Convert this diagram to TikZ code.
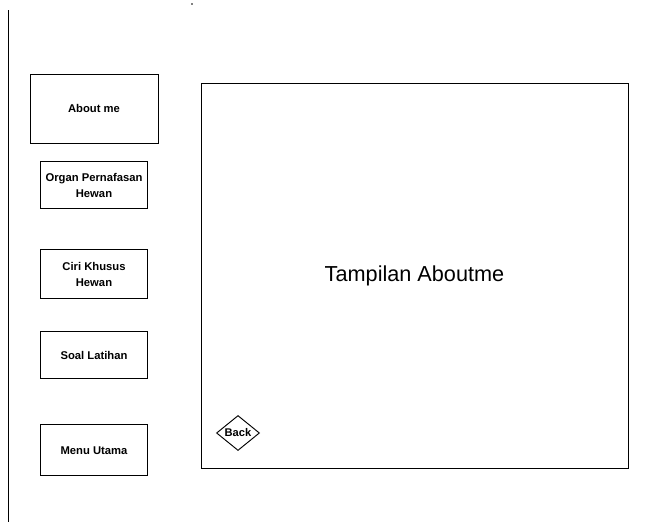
\documentclass[tikz,border=0pt]{standalone}
\usepackage{fontspec}
\setmainfont{Liberation Sans}
\usetikzlibrary{positioning, shapes.geometric}
\tikzset{
  menubtn/.style={draw, line width=0.8pt, align=center, inner sep=2pt,
                  minimum width=3.21cm, minimum height=1.41cm,
                  font=\fontsize{9.6}{13}\selectfont\bfseries},
}

\begin{document}
\begin{tikzpicture}[x=0.03cm, y=-0.03cm,
  screen/.style={draw, line width=0.8pt, minimum width=12.81cm,
                 minimum height=11.55cm, font=\fontsize{18.5}{22}\selectfont},
  backbtn/.style={draw, diamond, line width=0.8pt, inner sep=0pt,
                  minimum width=1.29cm, minimum height=1.05cm,
                  font=\fontsize{9.5}{10}\selectfont\bfseries}]
  \useasboundingbox (0,0) rectangle (660,528);
  % left border line and scan speck
  \coordinate (ltop) at (8,10);
  \coordinate (lbot) at (8,522);
  \draw[line width=0.6pt] (ltop) -- (lbot);
  \fill (192,4) circle (0.8);
  % menu buttons
  \node[menubtn, minimum width=3.84cm, minimum height=2.07cm] (about) at (94,108.5) {About me};
  \node[menubtn, below=0.54cm of about] (organ) {Organ Pernafasan\\Hewan};
  \node[menubtn, below=1.2cm of organ, minimum height=1.47cm] (ciri) {Ciri Khusus\\Hewan};
  \node[menubtn, below=0.96cm of ciri] (soal) {Soal Latihan};
  \node[menubtn, below=1.35cm of soal, minimum height=1.53cm] (menu) {Menu Utama};
  % content screen
  \node[screen] (main) at (414.5,276) {Tampilan Aboutme};
  \node[backbtn] (back) at (238,433) {Back};
\end{tikzpicture}
\end{document}
